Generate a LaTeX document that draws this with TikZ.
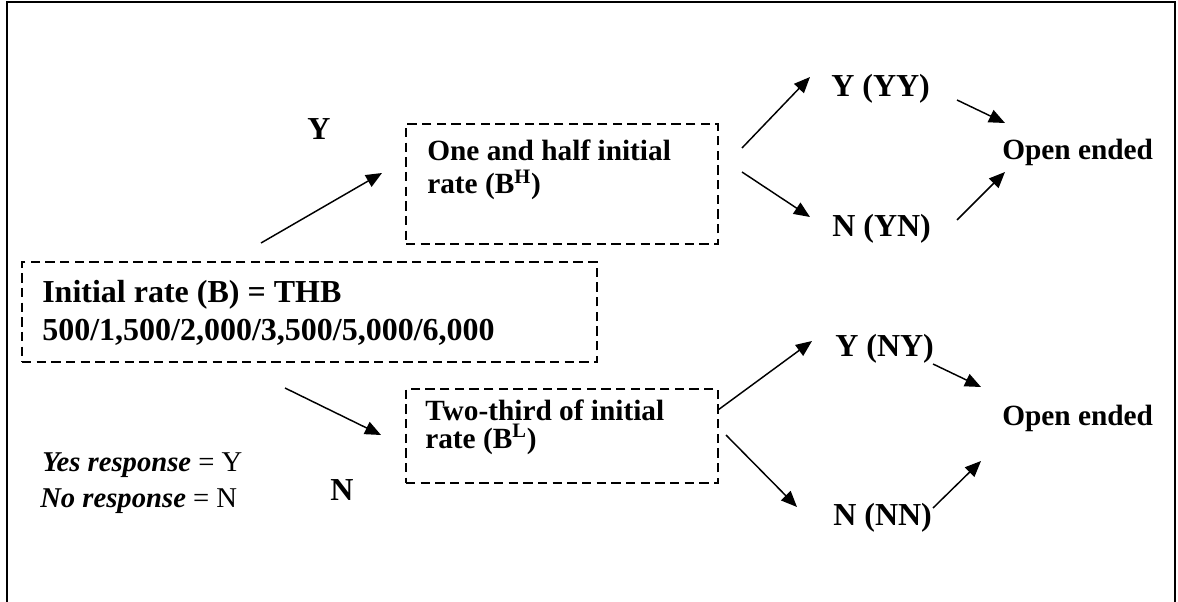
\documentclass[tikz,border=0pt]{standalone}
\usepackage{fontspec}
\setmainfont{Liberation Serif}
\usetikzlibrary{arrows.meta}
\begin{document}
\begin{tikzpicture}[x=0.75pt,y=-0.75pt,
  big/.style={font=\fontsize{24}{27.6}\selectfont\bfseries, inner sep=0pt, anchor=base west},
  mid/.style={font=\fontsize{22}{25}\selectfont\bfseries, inner sep=0pt, anchor=base west},
  leg/.style={font=\fontsize{21.5}{25}\selectfont, inner sep=0pt, anchor=base west},
  dbox/.style={draw, dash pattern=on 7pt off 4pt, line width=1.1pt, inner sep=0pt},
  arr/.style={line width=1.1pt, -{Triangle[length=12pt,width=10pt]}}]
\useasboundingbox (0,0) rectangle (1178,602);
\draw[line width=1.5pt] (7,602) -- (7,2) -- (1175,2) -- (1175,602);

% boxes
\node[dbox, minimum width=431.25pt, minimum height=75pt] (init) at (309.5,312) {};
\node[dbox, minimum width=234pt, minimum height=90pt] (hi) at (562,184) {};
\node[dbox, minimum width=234pt, minimum height=70.5pt] (lo) at (562,436) {};

% box texts (anchor = baseline of the last line)
\node[big, font=\fontsize{24}{28.5}\selectfont\bfseries, align=left] (inittxt) at (42,340)
  {Initial rate (B) = THB\\500/1,500/2,000/3,500/5,000/6,000};
\node[mid, font=\fontsize{22}{24.75}\selectfont\bfseries, align=left] (hitxt) at (427,194)
  {One and half initial\\rate (B\textsuperscript{H})};
\node[mid, font=\fontsize{22}{21}\selectfont\bfseries, align=left] (lotxt) at (425,448)
  {Two-third of initial\\rate (B\textsuperscript{L})};

% labels
\node[big] (ylab) at (307,140) {Y};
\node[big] (nlab) at (330,500) {N};
\node[big] (yy) at (831,97) {Y (YY)};
\node[big] (yn) at (832,237) {N (YN)};
\node[big] (ny) at (835,356) {Y (NY)};
\node[big] (nn) at (833,525) {N (NN)};
\node[mid] (open1) at (1002,160) {Open ended};
\node[mid] (open2) at (1002,425) {Open ended};
\node[leg] (leg1) at (42,471) {\textbf{\textit{Yes response}} = Y};
\node[leg] (leg2) at (40,507) {\textbf{\textit{No response}} = N};

% arrow end points
\coordinate (a1s) at (261,243); \coordinate (a1e) at (382,173);
\coordinate (a2s) at (285,388); \coordinate (a2e) at (381,435);
\coordinate (a3s) at (742,148); \coordinate (a3e) at (810,77);
\coordinate (a4s) at (742,172); \coordinate (a4e) at (810,217);
\coordinate (a5s) at (957,100); \coordinate (a5e) at (1005,123);
\coordinate (a6s) at (957,220); \coordinate (a6e) at (1005,172);
\coordinate (a7s) at (718,410); \coordinate (a7e) at (812,341);
\coordinate (a8s) at (726,435); \coordinate (a8e) at (797,507);
\coordinate (a9s) at (933,364); \coordinate (a9e) at (981,387);
\coordinate (a10s) at (933,508); \coordinate (a10e) at (981,461);

\draw[arr] (a1s) -- (a1e);
\draw[arr] (a2s) -- (a2e);
\draw[arr] (a3s) -- (a3e);
\draw[arr] (a4s) -- (a4e);
\draw[arr] (a5s) -- (a5e);
\draw[arr] (a6s) -- (a6e);
\draw[arr] (a7s) -- (a7e);
\draw[arr] (a8s) -- (a8e);
\draw[arr] (a9s) -- (a9e);
\draw[arr] (a10s) -- (a10e);
\end{tikzpicture}
\end{document}
